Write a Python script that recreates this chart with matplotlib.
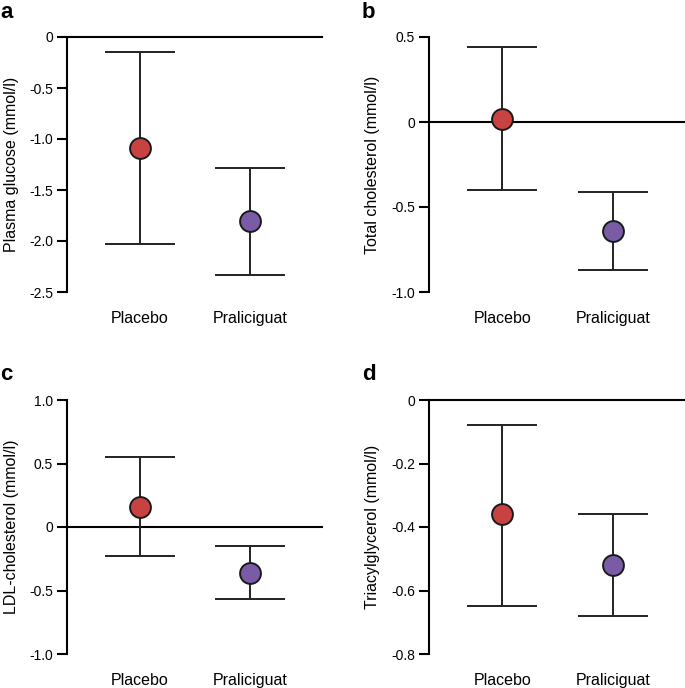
import matplotlib
matplotlib.use("Agg")
import matplotlib.pyplot as plt

plt.rcParams['font.family'] = ['Liberation Sans', 'DejaVu Sans']

groups = ["Placebo", "Praliciguat"]
colors = ["#c94242", "#7a5ba6"]

# mean, upper CI, lower CI per panel
glucose_mean = [-1.09, -1.80]
glucose_hi = [-0.15, -1.28]
glucose_lo = [-2.03, -2.33]

chol_mean = [0.02, -0.64]
chol_hi = [0.44, -0.41]
chol_lo = [-0.40, -0.87]

ldl_mean = [0.16, -0.36]
ldl_hi = [0.55, -0.15]
ldl_lo = [-0.23, -0.57]

tg_mean = [-0.36, -0.52]
tg_hi = [-0.08, -0.36]
tg_lo = [-0.65, -0.68]

panels = [
    ("a", "Plasma glucose (mmol/l)", glucose_mean, glucose_hi, glucose_lo,
     [0, -0.5, -1.0, -1.5, -2.0, -2.5], ["0", "-0.5", "-1.0", "-1.5", "-2.0", "-2.5"]),
    ("b", "Total cholesterol (mmol/l)", chol_mean, chol_hi, chol_lo,
     [0.5, 0, -0.5, -1.0], ["0.5", "0", "-0.5", "-1.0"]),
    ("c", "LDL-cholesterol (mmol/l)", ldl_mean, ldl_hi, ldl_lo,
     [1.0, 0.5, 0, -0.5, -1.0], ["1.0", "0.5", "0", "-0.5", "-1.0"]),
    ("d", "Triacylglycerol (mmol/l)", tg_mean, tg_hi, tg_lo,
     [0, -0.2, -0.4, -0.6, -0.8], ["0", "-0.2", "-0.4", "-0.6", "-0.8"]),
]

W, H = 685, 688
fig = plt.figure(figsize=(W / 100, H / 100), dpi=100)

# axes boxes in pixels: left, top, width, height
boxes = [(67, 37, 255, 255), (429, 37, 256, 255), (67, 400, 255, 254), (429, 400, 256, 254)]
letter_pos = [(0, 12), (362, 12), (0, 375), (362, 375)]

for (letter, ylabel, mean, hi, lo, yt, ytl), box, lp in zip(panels, boxes, letter_pos):
    l, t, w, h = box
    ax = fig.add_axes([l / W, (H - t - h) / H, w / W, h / H])
    ax.axhline(0, color="black", lw=1.5, zorder=1, clip_on=False)
    for i, g in enumerate(groups):
        ax.errorbar(i, mean[i], yerr=[[mean[i] - lo[i]], [hi[i] - mean[i]]],
                    fmt="none", ecolor="#222222", elinewidth=1.4, capsize=25,
                    capthick=1.4, zorder=2)
        ax.plot(i, mean[i], "o", ms=15, color=colors[i], mec="#1a1a1a",
                mew=1.4, zorder=3)
    ax.set_xlim(-0.66, 1.65)
    ax.set_ylim(min(yt), max(yt))
    ax.set_yticks(yt)
    ax.set_yticklabels(ytl)
    ax.set_xticks([0, 1])
    ax.set_xticklabels(groups, fontsize=11.5)
    ax.tick_params(axis="x", length=0, pad=14)
    ax.tick_params(axis="y", length=7, width=1.5, pad=3, labelsize=10)
    for s in ["top", "right", "bottom"]:
        ax.spines[s].set_visible(False)
    ax.spines["left"].set_linewidth(1.5)
    ax.set_ylabel(ylabel, fontsize=11.5)
    ax.yaxis.set_label_coords(-0.19, 0.5)
    fig.text(lp[0] / W, 1 - lp[1] / H, letter, fontsize=16, fontweight="bold",
             ha="left", va="center")

fig.savefig("out.png", dpi=100)
